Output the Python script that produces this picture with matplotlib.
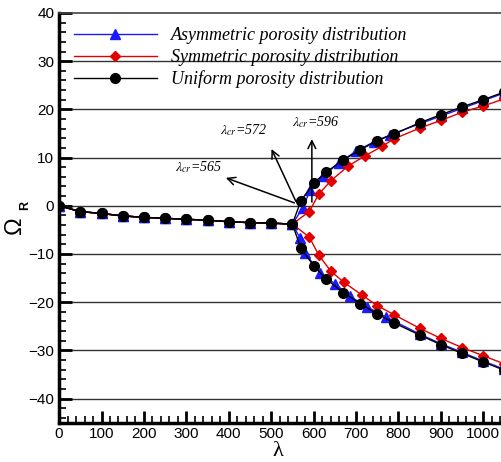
import numpy as np
import matplotlib
matplotlib.use("Agg")
import matplotlib.pyplot as plt
from matplotlib.ticker import MultipleLocator

plt.rcParams['font.family'] = ['Liberation Sans', 'DejaVu Sans']
plt.rcParams['mathtext.fontset'] = 'stix'

# common stem before the bifurcation (all three nearly identical)
stem_x = [0, 50, 100, 150, 200, 250, 300, 350, 400, 450, 500, 550]
stem_y = [0, -1.2, -1.6, -2.1, -2.4, -2.6, -2.8, -3.0, -3.3, -3.5, -3.6, -3.8]

# uniform porosity
uni_up_x = [570, 600, 630, 670, 710, 750, 790, 850, 900, 950, 1000, 1050]
uni_up_y = [1.0, 4.7, 7.0, 9.5, 11.6, 13.5, 14.9, 17.2, 18.9, 20.5, 22.0, 23.6]
uni_lo_x = [570, 600, 630, 670, 710, 750, 790, 850, 900, 950, 1000, 1050]
uni_lo_y = [-8.8, -12.4, -15.2, -18.0, -20.3, -22.4, -24.3, -26.8, -28.8, -30.6, -32.4, -34.1]

# asymmetric porosity
asy_up_x = [575, 592, 623, 659, 700, 743, 781, 850, 900, 950, 1000, 1050]
asy_up_y = [-0.4, 3.3, 6.1, 8.9, 11.3, 13.3, 14.7, 17.0, 18.6, 20.2, 21.8, 23.4]
asy_lo_x = [568, 580, 616, 651, 686, 727, 771, 850, 900, 950, 1000, 1050]
asy_lo_y = [-6.7, -9.8, -14.0, -16.2, -18.8, -21.0, -23.1, -26.6, -28.6, -30.4, -32.2, -33.9]

# symmetric porosity
sym_up_x = [590, 612, 641, 681, 722, 761, 790, 850, 900, 950, 1000, 1050]
sym_up_y = [-1.2, 2.4, 5.2, 8.2, 10.4, 12.3, 13.9, 16.1, 17.7, 19.4, 20.7, 22.2]
sym_lo_x = [590, 612, 641, 672, 714, 750, 790, 850, 900, 950, 1000, 1050]
sym_lo_y = [-6.5, -10.2, -13.6, -15.9, -18.5, -20.7, -22.6, -25.4, -27.5, -29.4, -31.1, -32.8]

fig = plt.figure(figsize=(5.01, 4.62), dpi=100)
ax = fig.add_axes([0.118, 0.085, 0.882, 0.887])

# horizontal grid
for yv in range(-40, 40, 10):
    ax.axhline(yv, color='#333333', lw=1.0, zorder=1)

series = [
    ('Asymmetric porosity distribution', '#1a1aff', '^', 6.5, asy_up_x, asy_up_y, asy_lo_x, asy_lo_y),
    ('Symmetric porosity distribution', '#e00000', 'D', 5.5, sym_up_x, sym_up_y, sym_lo_x, sym_lo_y),
    ('Uniform porosity distribution', 'black', 'o', 7, uni_up_x, uni_up_y, uni_lo_x, uni_lo_y),
]
for i, (lab, col, mk, ms, ux, uy, lx, ly) in enumerate(series):
    ax.plot(stem_x + ux, stem_y + uy, color=col, lw=1.0, marker=mk, ms=ms,
            label=lab, zorder=3 + i)
    ax.plot(stem_x + lx, stem_y + ly, color=col, lw=1.0, marker=mk, ms=ms,
            zorder=3 + i)

ax.set_xlim(0, 1042)
ax.set_ylim(-45, 40)
ax.xaxis.set_major_locator(MultipleLocator(100))
ax.xaxis.set_minor_locator(MultipleLocator(20))
ax.yaxis.set_major_locator(MultipleLocator(10))
ax.yaxis.set_minor_locator(MultipleLocator(2))
ax.tick_params(which='both', direction='in', top=False, right=False, labelsize=11, width=1.2)
ax.tick_params(which='major', length=9, width=2)
ax.tick_params(which='minor', length=5)
ax.tick_params(axis='x', pad=3)
ax.set_xticks(np.arange(0, 1001, 100))
ax.set_yticks(np.arange(-40, 41, 10))

ax.spines['left'].set_linewidth(2.5)
ax.spines['bottom'].set_linewidth(2.5)
ax.spines['top'].set_linewidth(1.2)
ax.spines['top'].set_color('#444444')
ax.spines['right'].set_visible(False)

# axis titles placed as figure text
fig.text(278 / 501, 1 - 456 / 462, 'λ', fontsize=16, family='Liberation Serif',
         ha='center', va='baseline')
fig.text(15 / 501, 1 - 225 / 462, 'Ω', fontsize=17, rotation=90, ha='center', va='center')
fig.text(25 / 501, 1 - 205 / 462, 'R', fontsize=9, fontweight='bold', rotation=90,
         ha='center', va='center')

leg = ax.legend(loc='upper left', frameon=False, handlelength=4.6, handletextpad=0.8,
                labelspacing=0.25, borderaxespad=0.4,
                prop={'family': 'Liberation Serif', 'style': 'italic', 'size': 13})

# annotations
arr = dict(arrowstyle='->', color='black', lw=1.1, mutation_scale=14)
tkw = dict(fontsize=10, family='Liberation Serif', style='italic', ha='center', va='center')
ax.annotate('', xy=(387, 6.0), xytext=(561, 0.4), arrowprops=arr, zorder=8)
ax.annotate('', xy=(498, 12.3), xytext=(561, 0.4), arrowprops=arr, zorder=8)
ax.annotate('', xy=(596, 14.4), xytext=(596, 0.2), arrowprops=arr, zorder=8)
ax.text(328, 8.1, r'$\lambda_{cr}$=565', **tkw)
ax.text(434, 15.8, r'$\lambda_{cr}$=572', **tkw)
ax.text(604, 17.4, r'$\lambda_{cr}$=596', **tkw)

fig.savefig('out.png', dpi=100)
